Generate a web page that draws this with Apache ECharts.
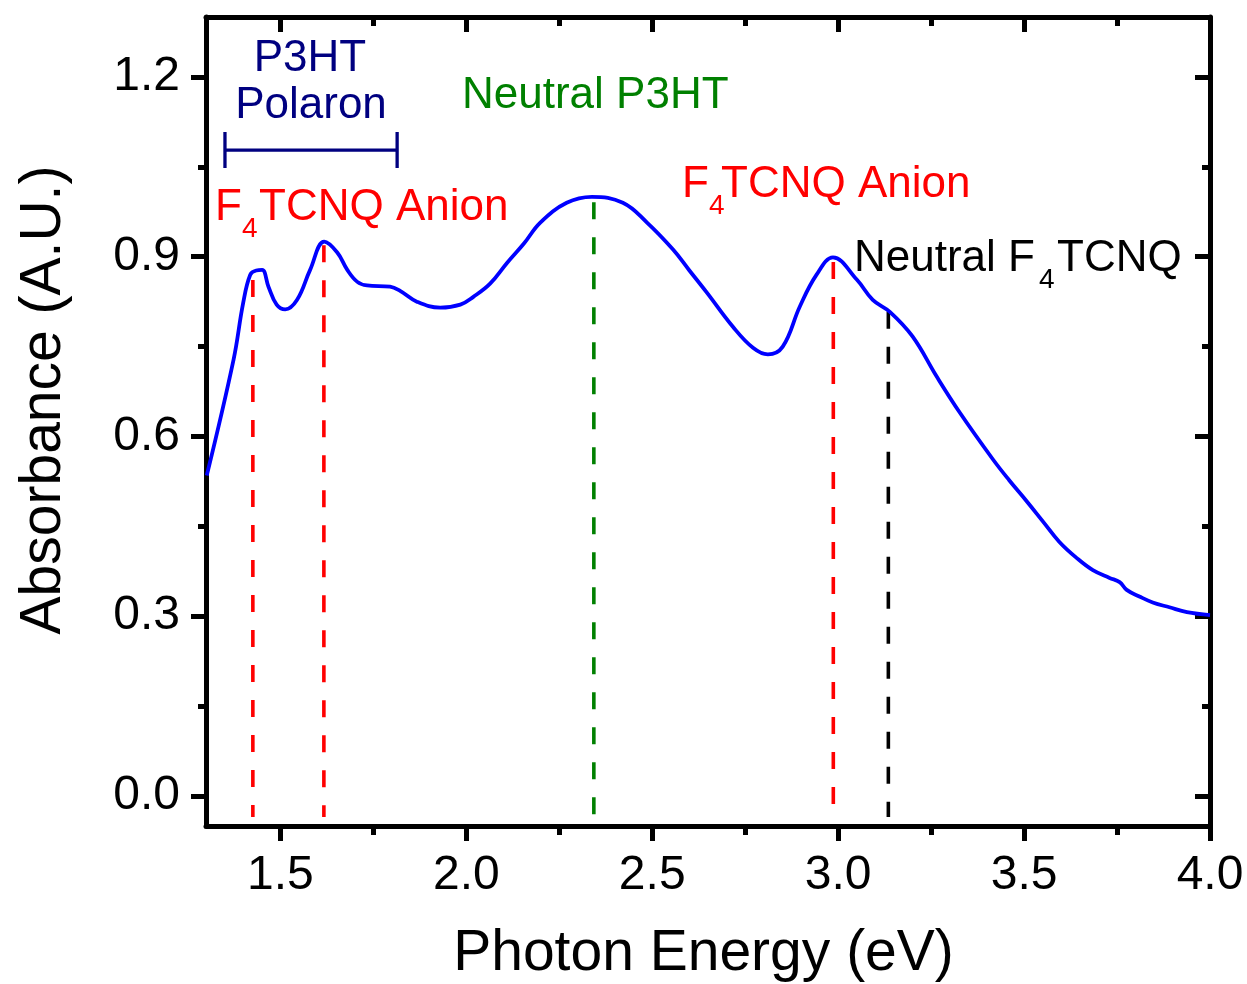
<!DOCTYPE html>
<html><head><meta charset="utf-8">
<script src="https://cdn.jsdelivr.net/npm/echarts@6/dist/echarts.min.js"></script>
<style>html,body{margin:0;padding:0;background:#fff}#c{width:1247px;height:984px}</style>
</head><body><div id="c"></div>
<script>
// ---- data ----
const energy = [1.302,1.374,1.400,1.419,1.435,1.451,1.468,1.490,1.513,1.545,1.580,1.618,1.653,1.680,1.707,1.733,1.795,1.822,1.867,1.930,1.984,2.019,2.064,2.110,2.155,2.199,2.270,2.338,2.421,2.486,2.556,2.600,2.647,2.717,2.771,2.811,2.851,2.897,2.942,2.986,3.050,3.093,3.139,3.200,3.265,3.327,3.416,3.460,3.507,3.551,3.595,3.642,3.685,3.730,3.757,3.776,3.810,3.846,3.891,3.938,4.000];
const absorbance = [0.535,0.728,0.823,0.870,0.877,0.878,0.850,0.820,0.812,0.828,0.878,0.925,0.907,0.878,0.858,0.852,0.850,0.843,0.825,0.815,0.820,0.833,0.855,0.890,0.922,0.957,0.990,1.000,0.990,0.957,0.912,0.877,0.840,0.783,0.748,0.737,0.750,0.817,0.870,0.899,0.862,0.828,0.808,0.767,0.700,0.640,0.562,0.527,0.492,0.458,0.424,0.397,0.377,0.364,0.357,0.344,0.333,0.323,0.315,0.307,0.302];
const xMajorTicks = [1.5,2.0,2.5,3.0,3.5,4.0];
const xMinorTicks = [1.75,2.25,2.75,3.25,3.75];
const yMajorTicks = [0.0,0.3,0.6,0.9,1.2];
const yMinorTicks = [0.15,0.45,0.75,1.05];
const peakEnergy = [1.426,1.617,2.343,2.987,3.135];
const peakTop = [0.861,0.919,0.991,0.891,0.808];
const peakBottom = -0.035;
const polaronRange = [1.351,1.814];
const polaronLevel = 1.078;
const polaronCap = [1.048,1.108];
const xName = 'Photon Energy (eV)';
const yName = 'Absorbance (A.U.)';

// ---- styles ----
const FONT = '"Liberation Sans", Arial, sans-serif';
const peakColors = ['#ff0000','#ff0000','#008000','#ff0000','#000000'];
const X_MIN = 1.3, X_MAX = 4.0, Y_MIN = -0.05, Y_MAX = 1.3;

function xAx(pos, ticks, len, inside, line, label, extra) {
  return Object.assign({
    type:'value', min:X_MIN, max:X_MAX, position:pos,
    axisLine:{show:line, onZero:false, lineStyle:{color:'#000', width:5}},
    axisTick:{show:true, customValues:ticks, length:len, inside:inside, lineStyle:{color:'#000', width:5}},
    axisLabel:{show:label, customValues:ticks, formatter:v=>v.toFixed(1), fontSize:48, color:'#000', fontFamily:FONT, margin:26},
    splitLine:{show:false}, minorTick:{show:false}
  }, extra||{});
}
function yAx(pos, ticks, len, inside, line, label, extra) {
  return Object.assign({
    type:'value', min:Y_MIN, max:Y_MAX, position:pos,
    axisLine:{show:line, onZero:false, lineStyle:{color:'#000', width:5}},
    axisTick:{show:true, customValues:ticks, length:len, inside:inside, lineStyle:{color:'#000', width:5}},
    axisLabel:{show:label, customValues:ticks, formatter:v=>v.toFixed(1), fontSize:48, color:'#000', fontFamily:FONT, margin:26},
    splitLine:{show:false}, minorTick:{show:false}
  }, extra||{});
}

const series = [];
peakEnergy.forEach((e,i)=>{
  series.push({type:'line', data:[[e,peakTop[i]],[e,peakBottom]], symbol:'none', silent:true, z:2,
    lineStyle:{color:peakColors[i], width:3.6, type:[17,18]}});
});
series.push({type:'line', symbol:'none', silent:true, z:3,
  data:[[polaronRange[0],polaronCap[1]],[polaronRange[0],polaronCap[0]],[polaronRange[0],polaronLevel],
        [polaronRange[1],polaronLevel],[polaronRange[1],polaronCap[1]],[polaronRange[1],polaronCap[0]]],
  lineStyle:{color:'#000080', width:3.3}});
series.push({type:'line', symbol:'none', smooth:0.4, z:4,
  data:energy.map((e,i)=>[e,absorbance[i]]),
  lineStyle:{color:'#0000ff', width:3.8}});

// annotation text pieces (layout in pixels; baseline-anchored)
const annotations = [
  {t:'P3HT', x:310, b:74, s:44, c:'#000080', a:'center'},
  {t:'Polaron', x:311, b:121, s:44, c:'#000080', a:'center'},
  {t:'Neutral P3HT', x:462, b:111, s:44, c:'#008000', a:'left'},
  {t:'F', x:215, b:223, s:44, c:'#ff0000', a:'left'},
  {t:'4', x:242, b:239, s:28, c:'#ff0000', a:'left'},
  {t:'TCNQ Anion', x:259, b:223, s:44, c:'#ff0000', a:'left'},
  {t:'F', x:682, b:200, s:44, c:'#ff0000', a:'left'},
  {t:'4', x:709, b:216, s:28, c:'#ff0000', a:'left'},
  {t:'TCNQ Anion', x:721, b:200, s:44, c:'#ff0000', a:'left'},
  {t:'Neutral F', x:854, b:274, s:44, c:'#000000', a:'left'},
  {t:'4', x:1039, b:290, s:28, c:'#000000', a:'left'},
  {t:'TCNQ', x:1057, b:274, s:44, c:'#000000', a:'left'}
];
const graphic = annotations.map(o=>({
  type:'text', x:o.x, y:o.b - 0.3465*o.s, silent:true, z:10,
  style:{text:o.t, fill:o.c, font:o.s+'px '+FONT, align:o.a, verticalAlign:'middle', textAlign:o.a, textVerticalAlign:'middle'}
}));

const option = {
  animation:false,
  backgroundColor:'#ffffff',
  grid:{left:206, right:37, top:17, bottom:158, containLabel:false, outerBoundsMode:'none'},
  xAxis:[
    xAx('bottom', xMajorTicks, 15, false, true, true, {
      name:xName, nameLocation:'middle', nameGap:100,
      nameTextStyle:{fontSize:57, color:'#000', fontFamily:FONT, padding:[0,9,0,0]}}),
    xAx('bottom', xMinorTicks, 9, false, false, false),
    xAx('top', xMajorTicks, 15, true, true, false),
    xAx('top', xMinorTicks, 9, true, false, false)
  ],
  yAxis:[
    yAx('left', yMajorTicks, 15, false, true, true, {
      name:yName, nameLocation:'middle', nameGap:133,
      nameTextStyle:{fontSize:57, color:'#000', fontFamily:FONT, padding:[0,0,0,43]}}),
    yAx('left', yMinorTicks, 8, false, false, false),
    yAx('right', yMajorTicks, 15, true, true, false),
    yAx('right', yMinorTicks, 8, true, false, false)
  ],
  series:series,
  graphic:graphic
};
const chart = echarts.init(document.getElementById('c'), null, {renderer:'canvas'});
chart.setOption(option);
</script>
</body></html>
